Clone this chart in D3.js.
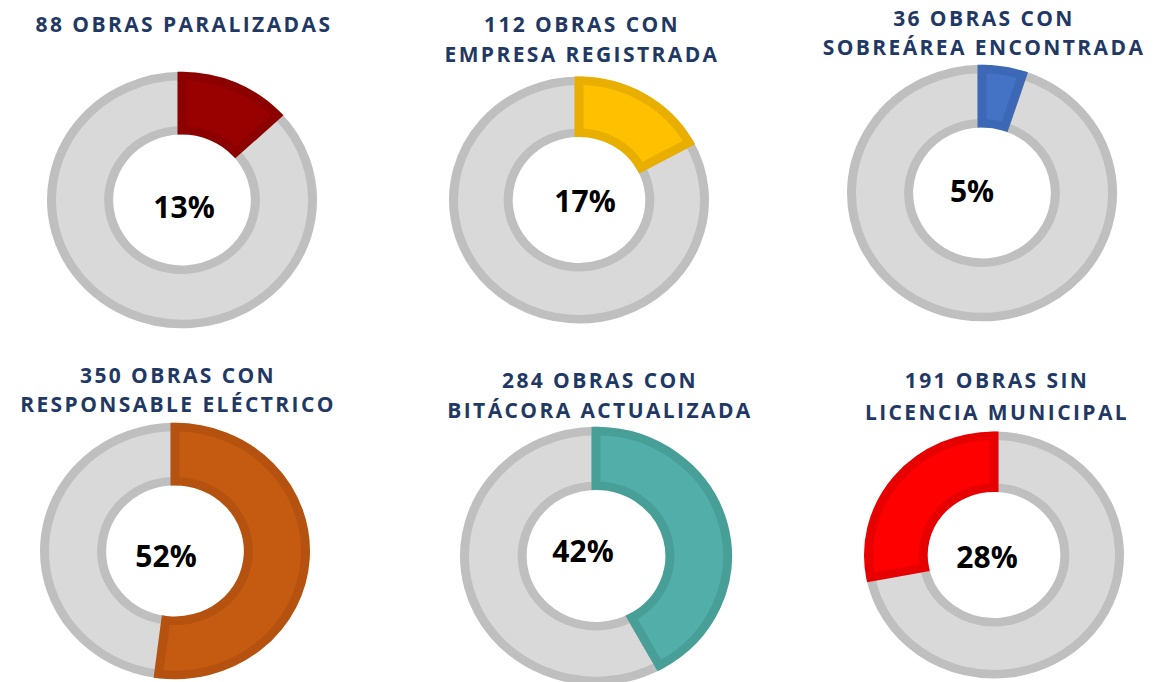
<!DOCTYPE html>
<html>
<head>
<meta charset="utf-8">
<script src="https://cdn.jsdelivr.net/npm/d3@7"></script>
<style>
  body { margin: 0; background: #fff; }
  svg { display: block; }
  .title { font-family: "Open Sans", sans-serif; font-weight: 700; fill: #1f3864; }
  .pct { font-family: "Open Sans", sans-serif; font-weight: 700; fill: #000; }
</style>
</head>
<body>
<svg width="1157" height="682"></svg>
<script>
// chart values
const counts = [88, 112, 36, 350, 284, 191];
const percents = [13, 17, 5, 52, 42, 28];
const titles = [
  ["88 OBRAS PARALIZADAS"],
  ["112 OBRAS CON", "EMPRESA REGISTRADA"],
  ["36 OBRAS CON", "SOBREÁREA ENCONTRADA"],
  ["350 OBRAS CON", "RESPONSABLE ELÉCTRICO"],
  ["284 OBRAS CON", "BITÁCORA ACTUALIZADA"],
  ["191 OBRAS SIN", "LICENCIA MUNICIPAL"]
];
const fills   = ["#990000", "#ffc000", "#4472c4", "#c55a11", "#51aea8", "#ff0000"];
const strokes = ["#8c0000", "#e8ae00", "#3d68b6", "#b5520f", "#479f98", "#e60000"];
const clockwise = [true, true, true, true, true, false];

// panel layout (positions only)
const layout = [
  { cx: 182, cy: 200, r: 135, tx: 184, ty: [32],       px: 184, py: 218 },
  { cx: 579, cy: 200, r: 130, tx: 582, ty: [32, 62],   px: 585, py: 212 },
  { cx: 982, cy: 193, r: 135, tx: 984, ty: [26, 55],   px: 972, py: 202 },
  { cx: 175, cy: 551, r: 135, tx: 178, ty: [383, 412], px: 166, py: 567 },
  { cx: 596, cy: 556, r: 136, tx: 600, ty: [388, 418], px: 583, py: 562 },
  { cx: 994, cy: 555, r: 130, tx: 997, ty: [388, 420], px: 987, py: 568 }
];

const svg = d3.select("svg");
const sw = 9;
const pie = d3.pie().sort(null).value(d => d.v);

counts.forEach((c, i) => {
  const L = layout[i];
  const p = percents[i];
  const parts = clockwise[i]
    ? [{ v: p, hi: true }, { v: 100 - p, hi: false }]
    : [{ v: 100 - p, hi: false }, { v: p, hi: true }];

  const arc = d3.arc()
    .outerRadius(L.r - sw / 2)
    .innerRadius(L.r * 0.51 + sw / 2);

  const g = svg.append("g")
    .attr("transform", `translate(${L.cx},${L.cy}) scale(1,0.95)`);

  const arcs = pie(parts).sort((a, b) => a.data.hi - b.data.hi);

  g.selectAll("path")
    .data(arcs)
    .join("path")
    .attr("d", arc)
    .attr("fill", d => d.data.hi ? fills[i] : "#d9d9d9")
    .attr("stroke", d => d.data.hi ? strokes[i] : "#bfbfbf")
    .attr("stroke-width", sw);

  svg.append("text")
    .attr("class", "pct")
    .attr("x", L.px)
    .attr("y", L.py)
    .attr("text-anchor", "middle")
    .attr("font-size", 30)
    .text(p + "%");

  titles[i].forEach((line, j) => {
    svg.append("text")
      .attr("class", "title")
      .attr("x", L.tx)
      .attr("y", L.ty[j])
      .attr("text-anchor", "middle")
      .attr("font-size", 21)
      .attr("letter-spacing", 2.4)
      .text(line);
  });
});
</script>
</body>
</html>
